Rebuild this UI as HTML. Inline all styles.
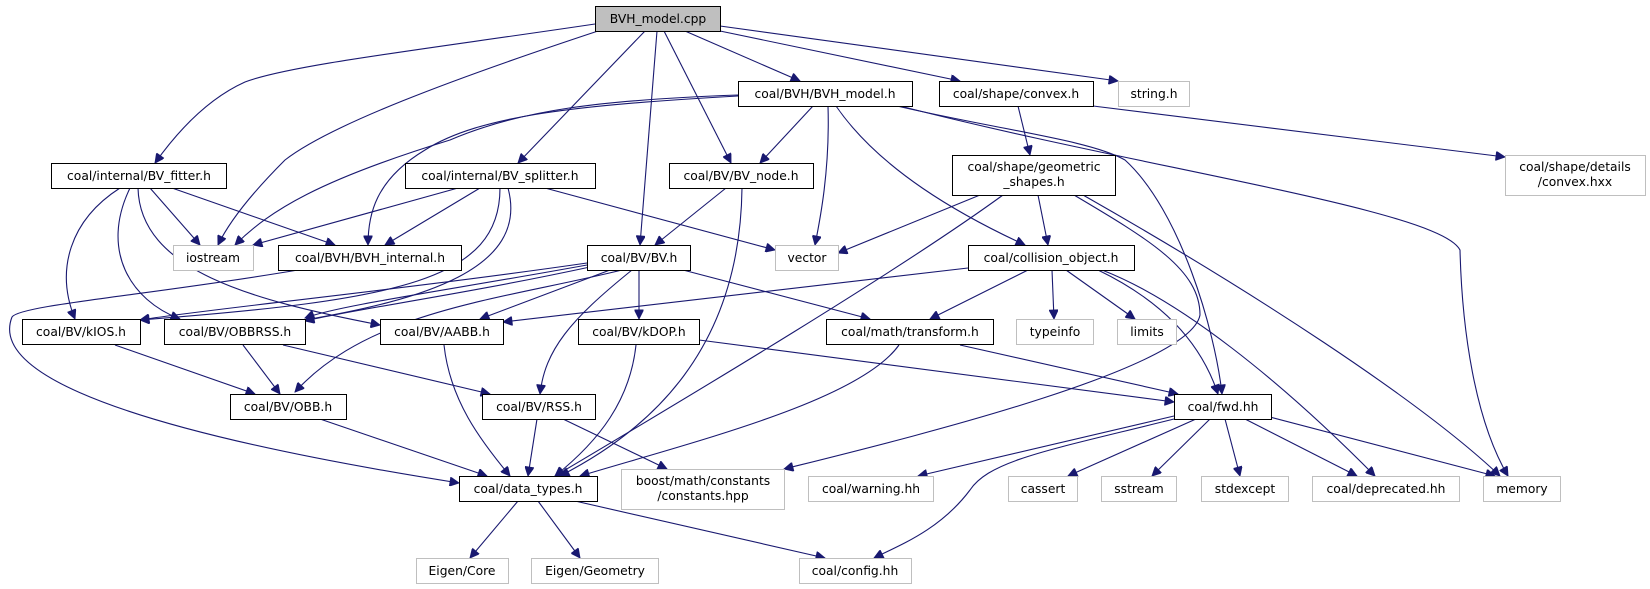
<!DOCTYPE html>
<html><head><meta charset="utf-8"><style>
html,body{margin:0;padding:0;background:#fff;}
svg{display:block;}
text{font-family:"DejaVu Sans","Liberation Sans",sans-serif;font-size:12.3px;fill:#000;text-anchor:middle;}
.e{fill:none;stroke:#191970;stroke-width:1.1;}
.n{fill:#fff;stroke:#000;stroke-width:1;}
.g{fill:#fff;stroke:#bfbfbf;stroke-width:1;}
</style></head><body>
<svg width="1650" height="589" viewBox="0 0 1650 589" xmlns="http://www.w3.org/2000/svg">
<defs><marker id="a" viewBox="0 0 10 10" refX="10" refY="5" markerWidth="11" markerHeight="9" orient="auto" markerUnits="userSpaceOnUse"><path d="M0,0L10,5L0,10z" fill="#191970" stroke="#191970"/></marker></defs>
<g class="e" marker-end="url(#a)">
<!-- root -->
<path d="M595,24 C420,50 290,65 245,82 C205,100 175,135 155,163"/>
<path d="M598,31 C450,80 330,125 285,160 C255,190 230,220 218,245"/>
<path d="M645,31 L518,163"/>
<path d="M657,31 L640,245"/>
<path d="M664,31 L731,163"/>
<path d="M685,31 L800,81"/>
<path d="M720,31 L960,81"/>
<path d="M720,26 L1118,81"/>
<!-- BVH_model.h -->
<path d="M738,95 C600,100 520,110 450,140 C320,180 270,210 235,245"/>
<path d="M738,96 C580,105 480,115 425,150 C375,180 368,215 368,245"/>
<path d="M813,106 L760,163"/>
<path d="M828,106 C830,170 820,220 815,245"/>
<path d="M836,106 C880,170 960,215 1025,245"/>
<path d="M897,106 C1000,130 1090,140 1125,160 C1180,210 1215,330 1222,394"/>
<path d="M900,106 C1150,170 1440,210 1460,250 C1462,330 1475,420 1508,476"/>
<!-- convex -->
<path d="M1018,106 L1030,155"/>
<path d="M1093,106 L1505,157"/>
<!-- geometric -->
<path d="M980,195 L838,253"/>
<path d="M1038,195 L1048,245"/>
<path d="M1003,195 C900,270 700,390 555,476"/>
<path d="M1074,195 C1150,240 1200,270 1200,315 C1190,370 900,440 784,469"/>
<path d="M1083,195 C1250,290 1420,400 1500,476"/>
<!-- BV_fitter -->
<path d="M120,188 C70,220 55,270 75,319"/>
<path d="M130,188 C100,250 130,300 180,319"/>
<path d="M138,188 C140,270 250,300 380,325"/>
<path d="M150,188 L200,245"/>
<path d="M172,188 L335,245"/>
<!-- BV_splitter -->
<path d="M458,188 L253,245"/>
<path d="M480,188 L385,245"/>
<path d="M545,188 L775,250"/>
<path d="M500,188 C500,280 400,300 140,320"/>
<path d="M508,188 C530,270 420,300 305,320"/>
<!-- BV_node -->
<path d="M726,188 L655,245"/>
<path d="M742,188 C740,350 650,430 560,476"/>
<!-- BVH_internal -->
<path d="M298,270 C150,295 20,305 12,317 C-5,360 60,420 459,483"/>
<!-- BV.h -->
<path d="M587,263 C400,290 200,310 140,320"/>
<path d="M587,265 C450,290 340,305 305,318"/>
<path d="M590,267 C460,295 350,310 305,321"/>
<path d="M610,270 L480,319"/>
<path d="M622,270 C500,300 370,310 295,392"/>
<path d="M632,270 C570,320 545,350 540,394"/>
<path d="M639,270 L639,319"/>
<path d="M683,270 L870,319"/>
<!-- collision_object -->
<path d="M968,268 L503,322"/>
<path d="M1028,270 L930,319"/>
<path d="M1052,270 L1054,319"/>
<path d="M1066,270 L1135,319"/>
<path d="M1098,270 C1160,300 1200,340 1218,394"/>
<path d="M1102,270 C1180,300 1280,380 1375,476"/>
<!-- row 5 -->
<path d="M115,345 L255,394"/>
<path d="M243,345 L280,394"/>
<path d="M283,345 L490,394"/>
<path d="M444,345 C450,400 480,440 510,476"/>
<path d="M636,345 C630,400 600,440 555,476"/>
<path d="M699,340 L1174,402"/>
<path d="M899,345 C860,400 700,440 580,476"/>
<path d="M960,345 L1178,394"/>
<!-- row 6 -->
<path d="M320,419 L487,476"/>
<path d="M537,419 L528,476"/>
<path d="M563,419 L667,469"/>
<!-- fwd -->
<path d="M1174,416 L918,476"/>
<path d="M1196,419 L1068,476"/>
<path d="M1210,419 L1152,476"/>
<path d="M1225,419 L1240,476"/>
<path d="M1245,419 L1357,476"/>
<path d="M1270,417 L1495,476"/>
<path d="M1174,419 C1050,450 990,460 970,490 C940,530 900,545 874,558"/>
<!-- data_types -->
<path d="M518,501 L470,558"/>
<path d="M538,501 L580,558"/>
<path d="M575,501 L825,558"/>
</g>
<!-- nodes -->
<rect x="595.5" y="6.5" width="125" height="25" fill="#bfbfbf" stroke="#000"/><text x="658" y="23">BVH_model.cpp</text>
<rect class="n" x="738.5" y="81.5" width="174" height="25"/><text x="825" y="98">coal/BVH/BVH_model.h</text>
<rect class="n" x="939.5" y="81.5" width="154" height="25"/><text x="1016" y="98">coal/shape/convex.h</text>
<rect class="g" x="1118.5" y="81.5" width="71" height="25"/><text x="1154" y="98">string.h</text>
<rect class="n" x="51.5" y="163.5" width="175" height="25"/><text x="139" y="180">coal/internal/BV_fitter.h</text>
<rect class="n" x="405.5" y="163.5" width="190" height="25"/><text x="500" y="180">coal/internal/BV_splitter.h</text>
<rect class="n" x="669.5" y="163.5" width="144" height="25"/><text x="741" y="180">coal/BV/BV_node.h</text>
<rect class="n" x="952.5" y="155.5" width="163" height="40"/><text x="1034" y="171">coal/shape/geometric</text><text x="1034" y="186">_shapes.h</text>
<rect class="g" x="1505.5" y="155.5" width="140" height="40"/><text x="1575" y="171">coal/shape/details</text><text x="1575" y="186">/convex.hxx</text>
<rect class="g" x="173.5" y="245.5" width="80" height="25"/><text x="213" y="262">iostream</text>
<rect class="n" x="278.5" y="245.5" width="183" height="25"/><text x="370" y="262">coal/BVH/BVH_internal.h</text>
<rect class="n" x="587.5" y="245.5" width="103" height="25"/><text x="639" y="262">coal/BV/BV.h</text>
<rect class="g" x="775.5" y="245.5" width="63" height="25"/><text x="807" y="262">vector</text>
<rect class="n" x="968.5" y="245.5" width="166" height="25"/><text x="1051" y="262">coal/collision_object.h</text>
<rect class="n" x="22.5" y="319.5" width="118" height="25"/><text x="81" y="336">coal/BV/kIOS.h</text>
<rect class="n" x="164.5" y="319.5" width="141" height="25"/><text x="235" y="336">coal/BV/OBBRSS.h</text>
<rect class="n" x="380.5" y="319.5" width="123" height="25"/><text x="442" y="336">coal/BV/AABB.h</text>
<rect class="n" x="578.5" y="319.5" width="121" height="25"/><text x="639" y="336">coal/BV/kDOP.h</text>
<rect class="n" x="826.5" y="319.5" width="167" height="25"/><text x="910" y="336">coal/math/transform.h</text>
<rect class="g" x="1016.5" y="319.5" width="77" height="25"/><text x="1055" y="336">typeinfo</text>
<rect class="g" x="1117.5" y="319.5" width="59" height="25"/><text x="1147" y="336">limits</text>
<rect class="n" x="230.5" y="394.5" width="116" height="25"/><text x="288" y="411">coal/BV/OBB.h</text>
<rect class="n" x="482.5" y="394.5" width="113" height="25"/><text x="539" y="411">coal/BV/RSS.h</text>
<rect class="n" x="1174.5" y="394.5" width="97" height="25"/><text x="1223" y="411">coal/fwd.hh</text>
<rect class="n" x="459.5" y="476.5" width="138" height="25"/><text x="528" y="493">coal/data_types.h</text>
<rect class="g" x="621.5" y="469.5" width="163" height="40"/><text x="703" y="485">boost/math/constants</text><text x="703" y="500">/constants.hpp</text>
<rect class="g" x="808.5" y="476.5" width="125" height="25"/><text x="871" y="493">coal/warning.hh</text>
<rect class="g" x="1008.5" y="476.5" width="69" height="25"/><text x="1043" y="493">cassert</text>
<rect class="g" x="1101.5" y="476.5" width="75" height="25"/><text x="1139" y="493">sstream</text>
<rect class="g" x="1201.5" y="476.5" width="87" height="25"/><text x="1245" y="493">stdexcept</text>
<rect class="g" x="1312.5" y="476.5" width="147" height="25"/><text x="1386" y="493">coal/deprecated.hh</text>
<rect class="g" x="1483.5" y="476.5" width="77" height="25"/><text x="1522" y="493">memory</text>
<rect class="g" x="416.5" y="558.5" width="92" height="25"/><text x="462" y="575">Eigen/Core</text>
<rect class="g" x="531.5" y="558.5" width="127" height="25"/><text x="595" y="575">Eigen/Geometry</text>
<rect class="g" x="799.5" y="558.5" width="112" height="25"/><text x="855" y="575">coal/config.hh</text>
</svg>
</body></html>
